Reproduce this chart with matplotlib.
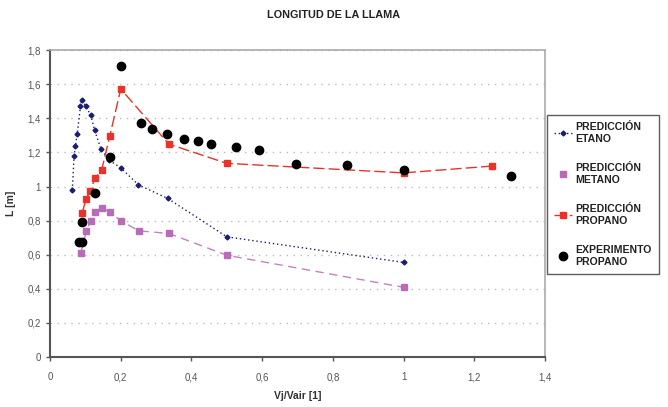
import matplotlib.pyplot as plt
from matplotlib.ticker import FuncFormatter, MultipleLocator

plt.rcParams['font.family'] = ['Liberation Sans', 'DejaVu Sans']

# prediccion etano
etano_x = [0.063, 0.068, 0.072, 0.077, 0.086, 0.090, 0.101, 0.115, 0.126, 0.144,
           0.167, 0.200, 0.250, 0.333, 0.500, 1.000]
etano_y = [0.98, 1.18, 1.24, 1.31, 1.47, 1.51, 1.47, 1.42, 1.33, 1.22,
           1.155, 1.11, 1.01, 0.93, 0.705, 0.555]

# prediccion metano
metano_x = [0.087, 0.103, 0.115, 0.127, 0.146, 0.169, 0.200, 0.251, 0.336, 0.500, 1.000]
metano_y = [0.61, 0.74, 0.80, 0.85, 0.877, 0.85, 0.80, 0.74, 0.725, 0.597, 0.409]

# prediccion propano
propano_x = [0.091, 0.102, 0.114, 0.127, 0.146, 0.169, 0.200, 0.336, 0.500, 1.000, 1.250]
propano_y = [0.847, 0.926, 0.976, 1.048, 1.097, 1.296, 1.572, 1.249, 1.136, 1.08, 1.12]

# experimento propano
exp_x = [0.083, 0.090, 0.089, 0.128, 0.171, 0.202, 0.256, 0.287, 0.330, 0.380,
         0.418, 0.454, 0.525, 0.590, 0.697, 0.840, 1.002, 1.303]
exp_y = [0.672, 0.672, 0.794, 0.962, 1.171, 1.707, 1.374, 1.335, 1.31, 1.276,
         1.27, 1.249, 1.23, 1.214, 1.132, 1.124, 1.097, 1.06]

fig = plt.figure(figsize=(6.68, 4.07), dpi=100)
ax = fig.add_axes([0.0749, 0.1228, 0.741, 0.754])

ax.plot(etano_x, etano_y, color='#1c1c70', ls=(0, (1, 2)), lw=1.0,
        marker='D', ms=2.5, label='PREDICCIÓN\nETANO')
# metano: line without label so the legend only shows the square
ax.plot(metano_x, metano_y, color='#b86cb8', ls=(0, (6, 4)), lw=1.0, alpha=0.85)
ax.plot(metano_x, metano_y, color='#b86cb8', ls='none',
        marker='s', ms=4.5, label='PREDICCIÓN\nMETANO')
ax.plot(propano_x, propano_y, color='#e8332b', ls=(0, (8, 3)), lw=1.0,
        marker='s', ms=4.5, label='PREDICCIÓN\nPROPANO')
ax.plot(exp_x, exp_y, color='black', ls='none', marker='o', ms=6,
        label='EXPERIMENTO\nPROPANO')

ax.set_xlim(0, 1.4)
ax.set_ylim(0, 1.8)
ax.xaxis.set_major_locator(MultipleLocator(0.2))
ax.yaxis.set_major_locator(MultipleLocator(0.2))
fmt = FuncFormatter(lambda v, p: ('%g' % round(v, 2)).replace('.', ','))
ax.xaxis.set_major_formatter(fmt)
ax.yaxis.set_major_formatter(fmt)
ax.tick_params(labelsize=7, colors='#555555', length=3, width=1, direction='out')
ax.tick_params(axis='x', pad=8)

ax.grid(axis='y', color='#bbbbbb', ls=(0, (1, 4)), lw=1)
ax.set_axisbelow(True)
for s in ['left', 'bottom']:
    ax.spines[s].set_color('#555555')
    ax.spines[s].set_linewidth(1.5)
for s in ['top', 'right']:
    ax.spines[s].set_color('#aaaaaa')
    ax.spines[s].set_linewidth(1.2)

ax.set_xlabel('Vj/Vair [1]', fontsize=7.5, fontweight='bold', color='#333333', labelpad=6)
ax.set_ylabel('L [m]', fontsize=7.5, fontweight='bold', color='#333333', labelpad=8)
fig.text(0.5, 0.963, 'LONGITUD DE LA LLAMA', ha='center', va='center',
         fontsize=7.8, fontweight='bold', color='#222222')

leg = ax.legend(loc='upper left', bbox_to_anchor=(1.003, 0.79),
                prop={'weight': 'bold', 'size': 7.6}, frameon=True, fancybox=False,
                handlelength=1.7, handletextpad=0.3, labelspacing=1.75,
                borderpad=0.7, borderaxespad=0)
leg.get_frame().set_edgecolor('#333333')
leg.get_frame().set_linewidth(1.0)
for t in leg.get_texts():
    t.set_color('#222222')
    t.set_linespacing(1.3)

fig.savefig('out.png', dpi=100)
